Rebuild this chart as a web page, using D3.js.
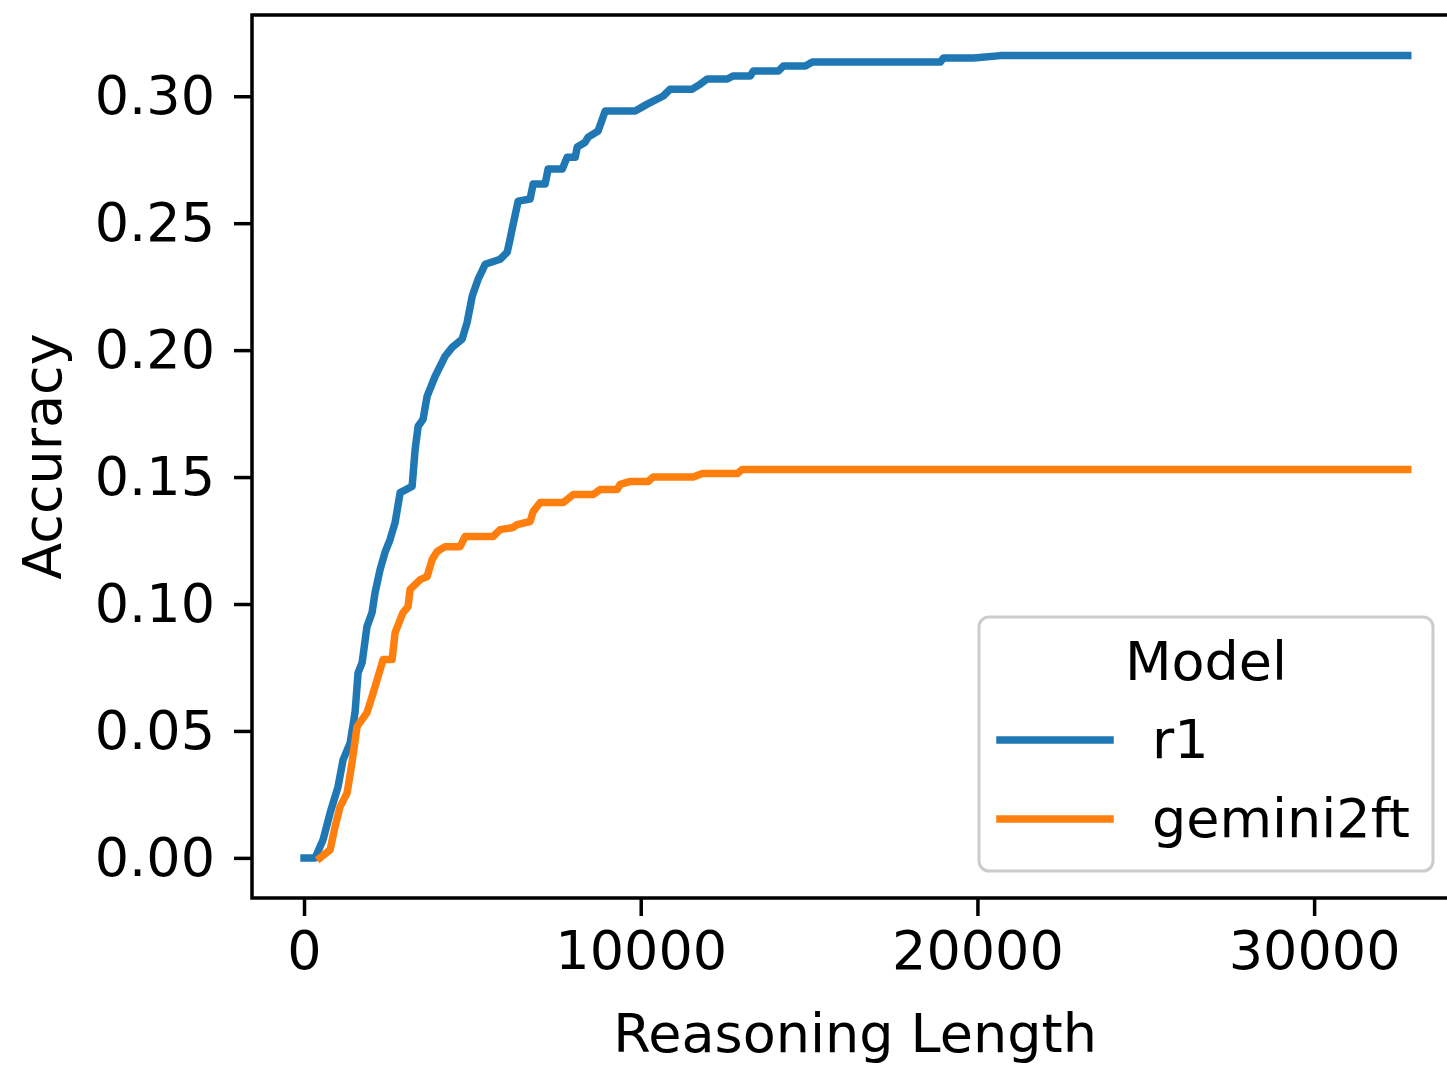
<!DOCTYPE html>
<html>
<head>
<meta charset="utf-8">
<script src="https://cdn.jsdelivr.net/npm/d3@7"></script>
<style>
  body { margin: 0; background: #fff; }
  svg { display: block; }
  text { font-family: "DejaVu Sans", sans-serif; fill: #000; }
</style>
</head>
<body>
<div id="chart"></div>
<script>
// values
const seriesNames = ["r1", "gemini2ft"];
const seriesColors = ["#1f77b4", "#ff7f0e"];

const r1Length = [0, 330, 565, 775, 1010, 1160, 1370, 1515, 1605, 1725, 1870, 2020, 2110, 2260, 2405,
  2555, 2705, 2855, 3210, 3300, 3390, 3535, 3655, 3895, 4190, 4400, 4695, 4845, 4995, 5170,
  5380, 5825, 6035, 6120, 6180, 6360, 6715, 6805, 7160, 7250, 7670, 7815, 8055, 8115, 8350,
  8440, 8735, 8945, 9835, 10195, 10670, 10875, 11530, 11770, 11975, 12570, 12750, 13255, 13345, 14085,
  14235, 14890, 15100, 18900, 18990, 19885, 20685, 32780];
const r1Accuracy = [0, 0, 0.0071, 0.0177, 0.0280, 0.0386, 0.0453, 0.0572, 0.0729, 0.0769, 0.0911, 0.0966, 0.1045, 0.1136, 0.1203,
  0.1254, 0.1321, 0.1439, 0.1463, 0.1609, 0.1700, 0.1727, 0.1818, 0.1897, 0.1976, 0.2011, 0.2043, 0.2110, 0.2212, 0.2279,
  0.2338, 0.2358, 0.2386, 0.2437, 0.2476, 0.2587, 0.2595, 0.2654, 0.2654, 0.2713, 0.2713, 0.2760, 0.2760, 0.2800, 0.2819,
  0.2839, 0.2863, 0.2942, 0.2942, 0.2969, 0.3001, 0.3028, 0.3028, 0.3048, 0.3068, 0.3068, 0.3080, 0.3080, 0.3099, 0.3099,
  0.3119, 0.3119, 0.3135, 0.3135, 0.3151, 0.3151, 0.3160, 0.3160];

const geminiLength = [475, 775, 920, 1070, 1280, 1425, 1575, 1870, 2020, 2260, 2350, 2615, 2705, 2940, 3090,
  3150, 3450, 3655, 3805, 3955, 4190, 4635, 4785, 5615, 5825, 6210, 6330, 6715, 6805, 7015,
  7700, 7995, 8590, 8795, 9300, 9390, 9690, 10225, 10370, 11560, 11830, 12870, 13015, 32780];
const geminiAccuracy = [0, 0.0032, 0.0122, 0.0201, 0.0256, 0.0375, 0.0517, 0.0572, 0.0635, 0.0741, 0.0781, 0.0781, 0.0887, 0.0966, 0.0990,
  0.1057, 0.1096, 0.1108, 0.1175, 0.1207, 0.1226, 0.1226, 0.1266, 0.1266, 0.1293, 0.1301, 0.1313, 0.1325, 0.1364, 0.1400,
  0.1400, 0.1431, 0.1431, 0.1451, 0.1451, 0.1471, 0.1483, 0.1483, 0.1500, 0.1500, 0.1514, 0.1514, 0.1530, 0.1530];

const xTicks = [0, 10000, 20000, 30000];
const yTicks = [0, 0.05, 0.10, 0.15, 0.20, 0.25, 0.30];

const width = 1447, height = 1067;
const plotLeft = 252, plotTop = 15, plotBottom = 898;
const fontSize = 54;

const svg = d3.select("#chart").append("svg")
    .attr("width", width)
    .attr("height", height);

// axes extend past the right edge of the picture, as in the reference
const x = d3.scaleLinear().domain([-1545, 34300]).range([plotLeft, plotLeft + 35845 * 0.03367]);
const y = d3.scaleLinear().domain([-0.0158, 0.332]).range([plotBottom, plotTop]);
const plotRight = x.range()[1];

const series = [
    { name: seriesNames[0], color: seriesColors[0], xs: r1Length, ys: r1Accuracy },
    { name: seriesNames[1], color: seriesColors[1], xs: geminiLength, ys: geminiAccuracy }
];

const line = d3.line()
    .x(d => x(d[0]))
    .y(d => y(d[1]));

svg.append("g").selectAll("path")
    .data(series)
    .join("path")
    .attr("d", s => line(s.xs.map((v, i) => [v, s.ys[i]])))
    .attr("fill", "none")
    .attr("stroke", s => s.color)
    .attr("stroke-width", 7.5)
    .attr("stroke-linejoin", "round")
    .attr("stroke-linecap", "square");

// axes
const xAxis = svg.append("g")
    .attr("transform", `translate(0,${plotBottom})`)
    .call(d3.axisBottom(x).tickValues(xTicks).tickFormat(d3.format("d")).tickSize(18).tickPadding(15));
const yAxis = svg.append("g")
    .attr("transform", `translate(${plotLeft},0)`)
    .call(d3.axisLeft(y).tickValues(yTicks).tickFormat(d3.format(".2f")).tickSize(18).tickPadding(19));

[xAxis, yAxis].forEach(a => {
    a.select(".domain").remove();
    a.selectAll(".tick line").attr("stroke", "#000").attr("stroke-width", 3.5);
    a.selectAll(".tick text")
        .style("font-family", "'DejaVu Sans', sans-serif")
        .style("font-size", fontSize + "px")
        .attr("fill", "#000");
});

// frame
svg.append("rect")
    .attr("x", plotLeft)
    .attr("y", plotTop)
    .attr("width", plotRight - plotLeft)
    .attr("height", plotBottom - plotTop)
    .attr("fill", "none")
    .attr("stroke", "#000")
    .attr("stroke-width", 3.5);

// axis titles
svg.append("text")
    .attr("x", 855)
    .attr("y", 1052)
    .attr("text-anchor", "middle")
    .style("font-size", fontSize + "px")
    .text("Reasoning Length");

svg.append("text")
    .attr("transform", `translate(61,${(plotTop + plotBottom) / 2}) rotate(-90)`)
    .attr("text-anchor", "middle")
    .style("font-size", fontSize + "px")
    .text("Accuracy");

// legend
const legend = svg.append("g");
legend.append("rect")
    .attr("x", 979)
    .attr("y", 617)
    .attr("width", 454)
    .attr("height", 254)
    .attr("rx", 10)
    .attr("fill", "#fff")
    .attr("fill-opacity", 0.8)
    .attr("stroke", "#cccccc")
    .attr("stroke-width", 3);

legend.append("text")
    .attr("x", 1206)
    .attr("y", 680)
    .attr("text-anchor", "middle")
    .style("font-size", fontSize + "px")
    .text("Model");

const entry = legend.selectAll(".entry")
    .data(series)
    .join("g")
    .attr("class", "entry")
    .attr("transform", (d, i) => `translate(0,${740 + i * 79})`);

entry.append("line")
    .attr("x1", 1000)
    .attr("x2", 1110)
    .attr("stroke", d => d.color)
    .attr("stroke-width", 7.5)
    .attr("stroke-linecap", "square");

entry.append("text")
    .attr("x", 1152)
    .attr("y", 18)
    .style("font-size", fontSize + "px")
    .text(d => d.name);
</script>
</body>
</html>
